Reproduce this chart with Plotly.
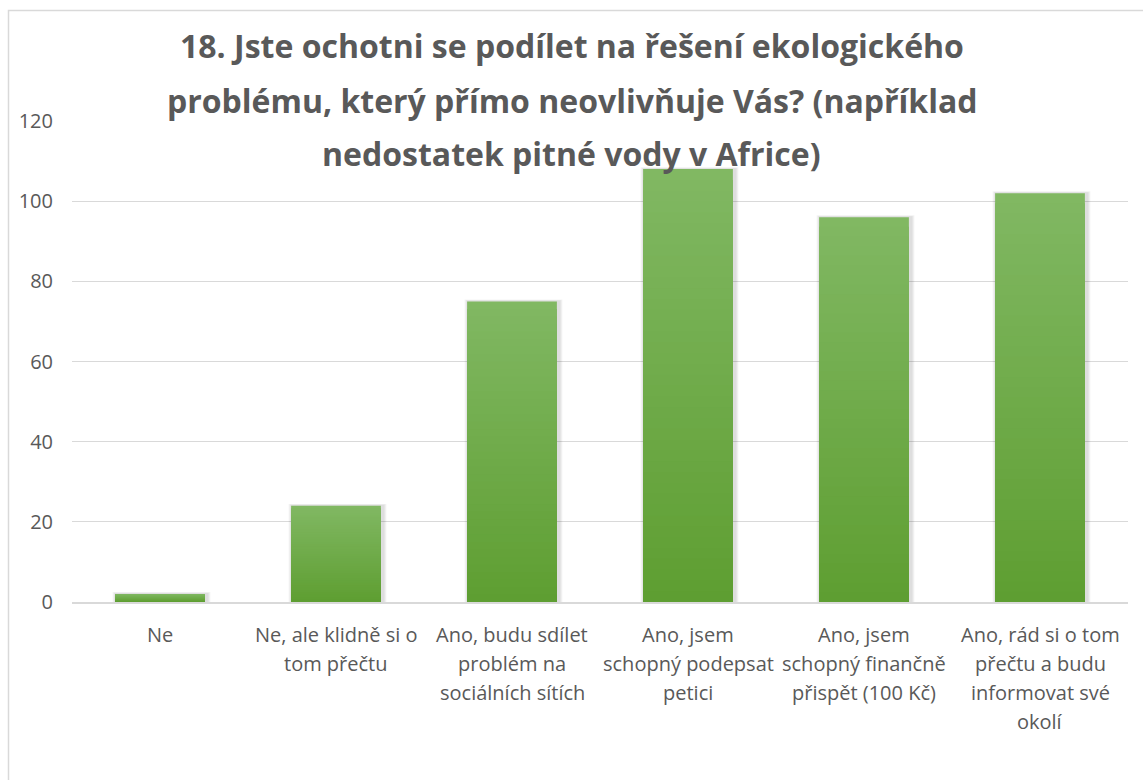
import plotly.graph_objects as go

# Survey answers and respondent counts
categories = [
    "Ne",
    "Ne, ale klidně si o\ntom přečtu",
    "Ano, budu sdílet\nproblém na\nsociálních sítích",
    "Ano, jsem\nschopný podepsat\npetici",
    "Ano, jsem\nschopný finančně\npřispět (100 Kč)",
    "Ano, rád si o tom\npřečtu a budu\ninformovat své\nokolí",
]
counts = [2, 24, 75, 108, 96, 102]
y_ticks = [0, 20, 40, 60, 80, 100, 120]
title_lines = [
    "18. Jste ochotni se podílet na řešení ekologického",
    "problému, který přímo neovlivňuje Vás? (například",
    "nedostatek pitné vody v Africe)",
]

FONT = "Open Sans"
TEXT = "#595959"
GRID = "#d9d9d9"
TOP_RGB = (129, 184, 99)
BOTTOM_RGB = (94, 158, 49)
BAR_W = 0.51

W, H = 1143, 780
M_L, M_R, M_T, M_B = 72, 15, 121, 178
plot_w = W - M_L - M_R
plot_h = H - M_T - M_B
PX = len(categories) / plot_w  # one pixel in category units


def px_to_paper_y(py):
    return (H - M_B - py) / plot_h


def px_to_paper_x(px):
    return (px - M_L) / plot_w


fig = go.Figure()
x_idx = list(range(len(categories)))

# Soft drop shadow behind the bars (a few widening translucent layers)
for grow in (4, 3, 2):
    fig.add_trace(go.Bar(
        x=x_idx,
        y=[c + grow * 0.12 for c in counts],
        width=BAR_W + 2 * grow * PX,
        offset=-(BAR_W / 2) - grow * PX + 1.5 * PX,
        marker=dict(color="rgba(0,0,0,0.045)", line=dict(width=0)),
        showlegend=False, hoverinfo="skip",
    ))

# Vertical gradient: stacked layers, tallest (lightest) first, each shorter and
# darker layer drawn over the previous one so there are no gaps between bands
N = 40
for k in range(N - 1, -1, -1):
    t = (k + 0.5) / N  # 0 at bottom, 1 at top
    r, g, b = (round(BOTTOM_RGB[i] + (TOP_RGB[i] - BOTTOM_RGB[i]) * t) for i in range(3))
    fig.add_trace(go.Bar(
        x=x_idx,
        y=[c * (k + 1) / N for c in counts],
        marker=dict(color=f"rgb({r},{g},{b})", line=dict(width=0)),
        width=BAR_W,
        showlegend=False,
        hoverinfo="skip",
    ))

annotations = []
# Title, one line per annotation, centred on the page
title_y = [45, 100, 154]
for line, py in zip(title_lines, title_y):
    annotations.append(dict(
        text=f"<b>{line}</b>", x=px_to_paper_x(W / 2), xref="paper", xanchor="center",
        y=px_to_paper_y(py), yref="paper", yanchor="middle",
        showarrow=False, font=dict(family=FONT, size=32, color=TEXT),
    ))

# Category labels, wrapped onto several lines below the axis
LINE_GAP = 29
FIRST_LINE = 634
for i, label in enumerate(categories):
    for j, part in enumerate(label.split("\n")):
        annotations.append(dict(
            text=part, x=i, xref="x", xanchor="center",
            y=px_to_paper_y(FIRST_LINE + j * LINE_GAP), yref="paper", yanchor="middle",
            showarrow=False, font=dict(family=FONT, size=20, color=TEXT),
        ))

fig.update_layout(
    width=W, height=H,
    margin=dict(l=M_L, r=M_R, t=M_T, b=M_B),
    paper_bgcolor="white", plot_bgcolor="white",
    barmode="overlay",
    font=dict(family=FONT, color=TEXT),
    annotations=annotations,
    xaxis=dict(
        range=[-0.5, len(categories) - 0.5],
        showticklabels=False, showgrid=False, zeroline=False,
        showline=True, linecolor=GRID, linewidth=2, ticks="",
        fixedrange=True,
    ),
    yaxis=dict(
        range=[0, 120], tickvals=y_ticks,
        showgrid=True, gridcolor=GRID, gridwidth=1,
        zeroline=False, showline=False, ticks="",
        ticklabelstandoff=18,
        tickfont=dict(family=FONT, size=20, color=TEXT),
        fixedrange=True,
    ),
    shapes=[dict(
        type="rect", xref="paper", yref="paper",
        x0=px_to_paper_x(8.5), x1=1.2,
        y0=-0.6, y1=px_to_paper_y(10.5),
        line=dict(color=GRID, width=1.5), fillcolor="rgba(0,0,0,0)",
        layer="below",
    )],
)

fig.write_html("out.html")
